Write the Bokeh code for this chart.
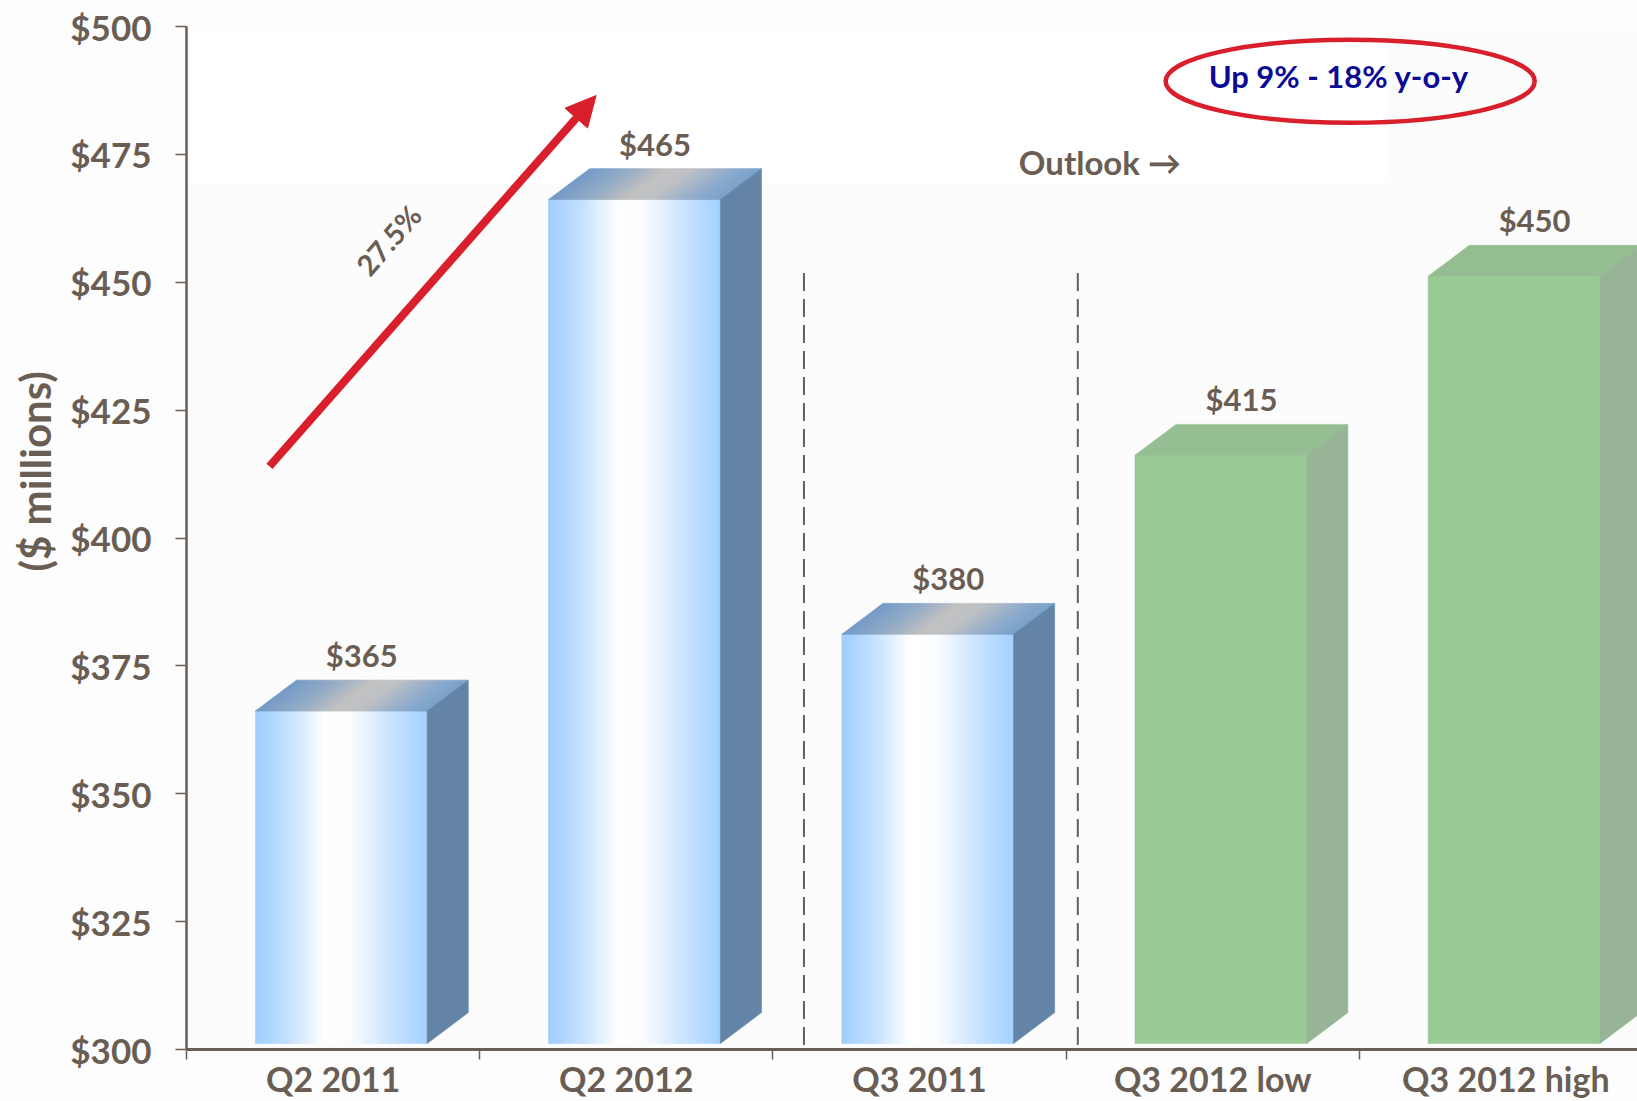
from bokeh.plotting import figure
from bokeh.models import (Arrow, NormalHead, Label, FixedTicker, NumeralTickFormatter,
                          Range1d, BoxAnnotation, Title)
from bokeh.core.properties import value
from bokeh.embed import file_html
from bokeh.resources import INLINE

# ---------------- data ----------------
categories = ["Q2 2011", "Q2 2012", "Q3 2011", "Q3 2012 low", "Q3 2012 high"]
revenue = [365, 465, 380, 415, 450]
bar_kind = ["actual", "actual", "actual", "outlook", "outlook"]
y_ticks = [300, 325, 350, 375, 400, 425, 450, 475, 500]
growth_label = "27.5%"
outlook_text = "Outlook \u2192"
guidance_text = "Up 9% - 18%  y-o-y"
y_title = "($ millions)"

# ---------------- style ----------------
TXT = "#6a5d53"
FONT = value("Lato")
RED = "#d81f2b"

front_stops = [(0.0, "#9ecdfe"), (0.2, "#c6e1ff"), (0.4, "#ffffff"),
               (0.55, "#fcfdff"), (0.76, "#cfe6ff"), (1.0, "#a2d0ff")]
top_stops = [(0.0, "#6f98c6"), (0.25, "#93aac4"), (0.45, "#c0c0c0"),
             (0.6, "#bcbfc3"), (0.85, "#8aa8cb"), (1.0, "#76a0ca")]
side_blue = "#6384a7"
green_front, green_top, green_side = "#99ca96", "#95bd92", "#97b596"

F_LEFT, F_RIGHT = 0.235, 0.821    # front face within category slot
DX, DY = 0.14, 6.04               # 3-D depth offset (x in slots, y in $M)
LIFT = 1.17                       # 3-D floor lift
N = 60


def hex2rgb(h):
    h = h.lstrip("#")
    return tuple(int(h[i:i + 2], 16) for i in (0, 2, 4))


def interp(stops, t):
    for (t0, c0), (t1, c1) in zip(stops[:-1], stops[1:]):
        if t0 <= t <= t1:
            f = (t - t0) / (t1 - t0) if t1 > t0 else 0
            a, b = hex2rgb(c0), hex2rgb(c1)
            return "#%02x%02x%02x" % tuple(round(a[k] + (b[k] - a[k]) * f) for k in range(3))
    return stops[-1][1]


p = figure(width=1637, height=1101, output_backend="svg", toolbar_location=None,
           x_range=Range1d(0, 4.949), y_range=Range1d(300, 500),
           min_border_left=185, min_border_right=0, min_border_top=26, min_border_bottom=49)
p.background_fill_color = "#fcfcfc"
p.border_fill_color = "#fdfdfd"
p.outline_line_color = None
p.grid.visible = False

# faint white panel at top
p.add_layout(BoxAnnotation(left=-1, right=4.09, bottom=469.4, top=510,
                           fill_color="white", fill_alpha=1, line_color=None, level="underlay"))

# ---------------- bars ----------------
fx0, fx1, ftop, fbot, fcol = [], [], [], [], []
txs, tys, tcol = [], [], []
sxs, sys_, scol = [], [], []
for i, (v, kind) in enumerate(zip(revenue, bar_kind)):
    left, right = i + F_LEFT, i + F_RIGHT
    bot, top = 300 + LIFT, v + LIFT
    w = right - left
    if kind == "actual":
        for k in range(N):
            a, b = left + k * w / N, left + (k + 1) * w / N
            fx0.append(a); fx1.append(b); fbot.append(bot); ftop.append(top)
            fcol.append(interp(front_stops, (k + 0.5) / N))
            txs.append([a, b, b + DX, a + DX]); tys.append([top, top, top + DY, top + DY])
            tcol.append(interp(top_stops, (k + 0.5) / N))
        sc = side_blue
    else:
        fx0.append(left); fx1.append(right); fbot.append(bot); ftop.append(top)
        fcol.append(green_front)
        txs.append([left, right, right + DX, left + DX]); tys.append([top, top, top + DY, top + DY])
        tcol.append(green_top)
        sc = green_side
    sxs.append([right, right + DX, right + DX, right])
    sys_.append([bot, bot + DY, top + DY, top])
    scol.append(sc)

p.quad(left=fx0, right=fx1, bottom=fbot, top=ftop, fill_color=fcol, line_color=fcol, line_width=0.6)
p.patches(xs=txs, ys=tys, fill_color=tcol, line_color=tcol, line_width=0.6)
p.patches(xs=sxs, ys=sys_, fill_color=scol, line_color=scol, line_width=0.6)

# value labels
p.text(x=[i + F_LEFT + (F_RIGHT - F_LEFT) / 2 + DX / 2 for i in range(len(revenue))],
       y=revenue, text=[f"${v}" for v in revenue], y_offset=-62,
       text_align="center", text_baseline="middle", text_font=FONT,
       text_font_style="bold", text_font_size="31px", text_color=TXT)

# ---------------- axes ----------------
yax = p.yaxis[0]
yax.ticker = FixedTicker(ticks=y_ticks)
yax.formatter = NumeralTickFormatter(format="$0")
yax.major_tick_in = 0
yax.major_tick_out = 11
yax.minor_tick_out = 0
yax.minor_tick_in = 0
yax.major_label_standoff = 24
yax.major_label_text_font = "Lato"
yax.major_label_text_font_style = "bold"
yax.major_label_text_font_size = "35px"
yax.major_label_text_color = TXT
yax.axis_line_color = TXT
yax.axis_line_width = 2.5
yax.major_tick_line_color = TXT
yax.major_tick_line_width = 1.5

p.add_layout(Title(text=y_title, align="left", offset=478, standoff=15,
                   text_font="Lato", text_font_style="bold", text_font_size="42px",
                   text_color=TXT), "left")

xax = p.xaxis[0]
xax.ticker = FixedTicker(ticks=[i + 0.5 for i in range(len(categories))],
                         minor_ticks=list(range(len(categories) + 1)))
xax.major_label_overrides = {i + 0.5: c for i, c in enumerate(categories)}
xax.major_tick_in = 0
xax.major_tick_out = 0
xax.minor_tick_out = 10
xax.minor_tick_in = 0
xax.major_label_standoff = -2
xax.major_label_text_font = "Lato"
xax.major_label_text_font_style = "bold"
xax.major_label_text_font_size = "34px"
xax.major_label_text_color = TXT
xax.axis_line_color = TXT
xax.axis_line_width = 3
xax.minor_tick_line_color = TXT
xax.minor_tick_line_width = 1.5

# ---------------- annotations ----------------
for xd in (2.106, 3.040):
    p.add_layout(Arrow(end=None, x_start=xd, y_start=451.8, x_end=xd, y_end=290,
                       line_color=TXT, line_width=2, line_dash="18 8"))

p.add_layout(Arrow(end=NormalHead(size=30, fill_color=RED, line_color=RED),
                   x_start=0.283, y_start=414.0, x_end=1.397, y_end=486.5,
                   line_color=RED, line_width=8))

p.add_layout(Label(x=0.688, y=458.3, text=growth_label, angle=49, angle_units="deg",
                   text_align="center", text_baseline="middle", text_font="Lato",
                   text_font_style="bold", text_font_size="29px", text_color=TXT))

p.add_layout(Label(x=2.839, y=473.5, text=outlook_text, text_align="left",
                   text_baseline="middle", text_font="Lato", text_font_style="bold",
                   text_font_size="33px", text_color=TXT))

p.ellipse(x=[3.969], y=[489.3], width=369, height=83, width_units="screen",
          height_units="screen", fill_color=None, line_color=RED, line_width=4.5)
p.add_layout(Label(x=3.943, y=490.3, text=guidance_text, text_align="center",
                   text_baseline="middle", text_font="Lato", text_font_style="bold",
                   text_font_size="31px", text_color="#0a0a96"))

open("out.html", "w").write(file_html(p, INLINE))
